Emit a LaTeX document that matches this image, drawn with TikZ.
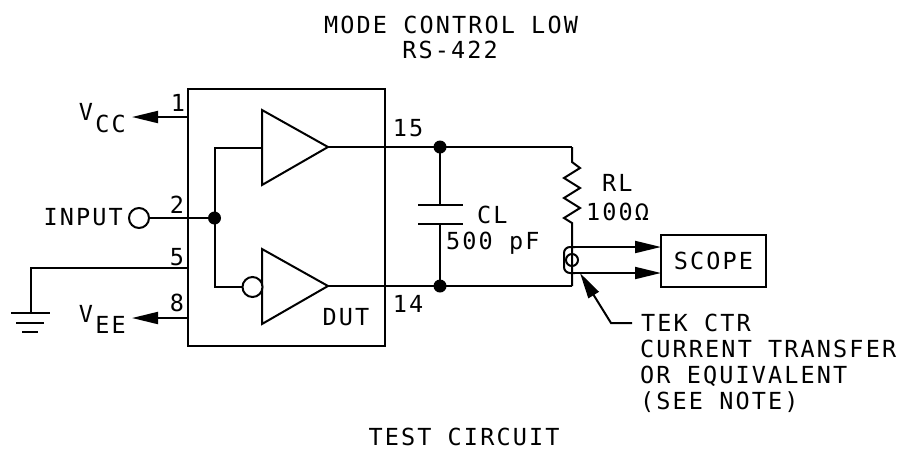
\documentclass[tikz,border=0pt]{standalone}
\usepackage{fontspec}
\setmainfont{DejaVu Sans Mono}[LetterSpace=9]
\usetikzlibrary{arrows.meta}
\tikzset{
  wire/.style={line width=2pt,black},
  lbl/.style={inner sep=0pt,font=\fontsize{23.5}{27}\selectfont},
  dotn/.style={circle,fill=black,inner sep=0pt,minimum size=13pt},
  openc/.style={circle,draw=black,line width=2pt,fill=white,inner sep=0pt},
  arrow/.style={wire,-{Triangle[length=26pt,width=12pt]}}
}
\begin{document}
\begin{tikzpicture}[x=1pt,y=-1pt]
\useasboundingbox (0,0) rectangle (903,451);
\node[lbl] (t1) at (451,25) {MODE CONTROL LOW};
\node[lbl] (t2) at (450,50) {RS-422};
\node[lbl] (t3) at (464,437) {TEST CIRCUIT};
% IC
\node[draw=black,line width=2pt,minimum width=197pt,minimum height=257pt,inner sep=0pt] (ic) at (286.5,217.5) {};
% Amps
\coordinate (a1t) at (262,110); \coordinate (a1b) at (262,185); \coordinate (a1o) at (328,147);
\coordinate (a2t) at (262,249); \coordinate (a2b) at (262,324); \coordinate (a2o) at (328,286);
\draw[wire,line join=miter] (a1t) -- (a1o) -- (a1b) -- cycle;
\draw[wire,line join=miter] (a2t) -- (a2o) -- (a2b) -- cycle;
% pins
\coordinate (p1) at (188,117); \coordinate (vcc) at (132,117);
\draw[arrow] (p1) -- (vcc);
\coordinate (p8) at (188,318); \coordinate (vee) at (132,318);
\draw[arrow] (p8) -- (vee);
\node[openc,minimum size=20pt] (inp) at (139,218) {};
\node[dotn] (j) at (214.5,218) {};
\draw[wire] (inp) -- (j.center);
\coordinate (p5) at (188,268); \coordinate (g) at (31,268); \coordinate (g0) at (31,313);
\draw[wire] (p5) -- (g) -- (g0);
\coordinate (g1a) at (11,313); \coordinate (g1b) at (50,313);
\coordinate (g2a) at (16,323); \coordinate (g2b) at (44,323);
\coordinate (g3a) at (22,332); \coordinate (g3b) at (38,332);
\draw[wire] (g1a) -- (g1b) (g2a) -- (g2b) (g3a) -- (g3b);
% input to amps
\node[openc,minimum size=20pt] (bub) at (252.5,287) {};
\coordinate (c1) at (214.5,148); \coordinate (c2) at (214.5,287); \coordinate (a1i) at (262,148);
\draw[wire] (a1i) -- (c1) -- (j.center);
\draw[wire] (j.center) -- (c2) -- (bub);
% outputs
\node[dotn] (d1) at (440,147) {};
\node[dotn] (d2) at (440,286) {};
\coordinate (r1) at (572,147); \coordinate (r2) at (572,286);
\draw[wire] (a1o) -- (d1.center) -- (r1);
\draw[wire] (a2o) -- (d2.center) -- (r2);
% capacitor
\coordinate (c3) at (440,205); \coordinate (c4) at (440,224);
\draw[wire] (d1.center) -- (c3) (c4) -- (d2.center);
\coordinate (c3a) at (418,205); \coordinate (c3b) at (463,205);
\coordinate (c4a) at (418,224); \coordinate (c4b) at (463,224);
\draw[wire] (c3a) -- (c3b) (c4a) -- (c4b);
% resistor
\draw[wire,line join=miter] (r1) -- (572,162) -- (580,168) -- (564,178) -- (580,188) -- (564,198) -- (580,208) -- (564,218) -- (572,223) -- (r2);
% scope
\node[draw=black,line width=2pt,minimum width=105pt,minimum height=52pt,inner sep=0pt,lbl] (sc) at (713.5,261) {SCOPE};
% transformer
\node[circle,draw=black,line width=2pt,inner sep=0pt,minimum size=12pt] (ct) at (572,260) {};
\coordinate (s1) at (661,247); \coordinate (s2) at (661,273);
\coordinate (l1) at (575,247); \coordinate (l2) at (575,273);
\draw[wire,rounded corners=6pt] (l1) -- (564,247) -- (564,273) -- (l2);
\draw[arrow] (l1) -- (s1);
\draw[arrow] (l2) -- (s2);
% pointer
\coordinate (tip) at (580,273); \coordinate (k1) at (611,323); \coordinate (k2) at (632,323);
\draw[wire,{Triangle[length=26pt,width=12pt]}-] (tip) -- (k1) -- (k2);
% labels
\node[lbl,anchor=west] (tek) at (641,323) {TEK CTR};
\node[lbl,anchor=west] (cur) at (640,349) {CURRENT TRANSFER};
\node[lbl,anchor=west] (eq) at (640,376) {OR EQUIVALENT};
\node[lbl,anchor=west] (sn) at (640,402) {(SEE NOTE)};
\node[lbl] (n1) at (178,103) {1};
\node[lbl] (n2) at (177,205) {2};
\node[lbl] (n5) at (177,257) {5};
\node[lbl] (n8) at (177,303) {8};
\node[lbl] (n15) at (408,128) {15};
\node[lbl] (n14) at (408,304) {14};
\node[lbl] (dut) at (346,317) {DUT};
\node[lbl] (v1) at (86,112) {V};
\node[lbl] (cc) at (110.5,124) {CC};
\node[lbl] (v2) at (86,314) {V};
\node[lbl] (ee) at (110.5,325) {EE};
\node[lbl,anchor=east] (in) at (123,217) {INPUT};
\node[lbl,anchor=west] (cl) at (477,215) {CL};
\node[lbl,anchor=west] (pf) at (446,243) {500 pF};
\node[lbl,anchor=west] (rl) at (602,183) {RL};
\node[lbl,anchor=west] (ohm) at (586,212) {100Ω};
\end{tikzpicture}
\end{document}
